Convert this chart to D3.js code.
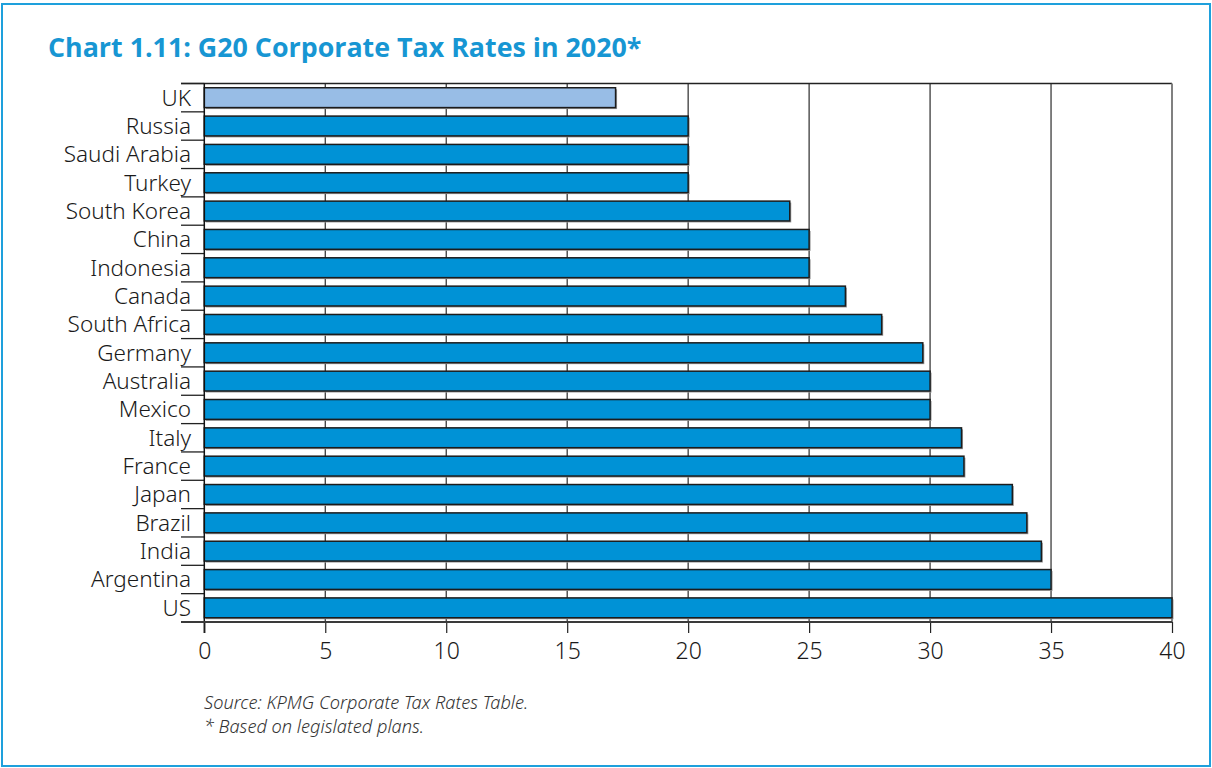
<!DOCTYPE html>
<html>
<head>
<meta charset="utf-8">
<script src="https://cdn.jsdelivr.net/npm/d3@7"></script>
<style>
  html, body { margin: 0; padding: 0; background: #fff; }
  svg { display: block; }
</style>
</head>
<body>
<svg id="chart" width="1212" height="768"></svg>
<script>
// G20 corporate tax rates, 2020 (%)
const countries = ["UK", "Russia", "Saudi Arabia", "Turkey", "South Korea", "China", "Indonesia",
  "Canada", "South Africa", "Germany", "Australia", "Mexico", "Italy", "France", "Japan",
  "Brazil", "India", "Argentina", "US"];
const rates = [17, 20, 20, 20, 24.2, 25, 25, 26.5, 28, 29.7, 30, 30, 31.3, 31.4, 33.4, 34, 34.6, 35, 40];
const xTicks = [0, 5, 10, 15, 20, 25, 30, 35, 40];
const highlight = "UK";

const titleText = "Chart 1.11: G20 Corporate Tax Rates in 2020*";
const notes = ["Source: KPMG Corporate Tax Rates Table.", "* Based on legislated plans."];

const svg = d3.select("#chart");
const font = "'Noto Sans', 'Open Sans', sans-serif";

// outer frame
svg.append("rect")
  .attr("x", 2).attr("y", 4).attr("width", 1208).attr("height", 762)
  .attr("fill", "none").attr("stroke", "#1ea0dc").attr("stroke-width", 2);

svg.append("text")
  .attr("x", 48).attr("y", 57)
  .attr("font-family", "'Open Sans', sans-serif")
  .attr("font-weight", 700)
  .attr("font-size", 26.8)
  .attr("fill", "#1796d3")
  .text(titleText);

const plot = { left: 204.3, right: 1172, top: 83.5, bottom: 622 };

const x = d3.scaleLinear().domain([0, 40]).range([plot.left, plot.right]);
const y = d3.scaleBand().domain(countries).range([plot.top, plot.bottom])
  .paddingInner(0.3).paddingOuter(0.15);
const yb = d3.scaleBand().domain(countries).range([plot.top, plot.bottom]);

const g = svg.append("g");

// vertical gridlines
g.selectAll("line.grid").data(xTicks.slice(1, -1)).join("line")
  .attr("class", "grid")
  .attr("x1", d => x(d)).attr("x2", d => x(d))
  .attr("y1", plot.top).attr("y2", plot.bottom)
  .attr("stroke", "#2b2b2b").attr("stroke-width", 1.2);

// plot frame: top (black) and right (grey)
g.append("line")
  .attr("x1", 181).attr("x2", plot.right)
  .attr("y1", plot.top).attr("y2", plot.top)
  .attr("stroke", "#222").attr("stroke-width", 1.5);
g.append("line")
  .attr("x1", plot.right).attr("x2", plot.right)
  .attr("y1", plot.top).attr("y2", plot.bottom)
  .attr("stroke", "#808080").attr("stroke-width", 2);

// bar shadows
g.selectAll("rect.shadow").data(countries).join("rect")
  .attr("class", "shadow")
  .attr("x", x(0) + 1.5)
  .attr("y", d => y(d) + 1.5)
  .attr("width", (d, i) => x(rates[i]) - x(0))
  .attr("height", y.bandwidth())
  .attr("fill", "#9a9a9a");

// bars
g.selectAll("rect.bar").data(countries).join("rect")
  .attr("class", "bar")
  .attr("x", x(0))
  .attr("y", d => y(d))
  .attr("width", (d, i) => x(rates[i]) - x(0))
  .attr("height", y.bandwidth())
  .attr("fill", d => d === highlight ? "#98bde6" : "#0092d6")
  .attr("stroke", "#1c1c1c").attr("stroke-width", 1.5);

// category tick marks at band edges
const edges = countries.map(c => yb(c)).concat([plot.bottom]);
g.selectAll("line.ytick").data(edges).join("line")
  .attr("class", "ytick")
  .attr("x1", 181).attr("x2", plot.left)
  .attr("y1", d => d).attr("y2", d => d)
  .attr("stroke", "#222").attr("stroke-width", 1.3);

// category labels
g.selectAll("text.ylab").data(countries).join("text")
  .attr("class", "ylab")
  .attr("x", 191)
  .attr("y", d => yb(d) + yb.bandwidth() / 2)
  .attr("dy", "0.35em")
  .attr("text-anchor", "end")
  .attr("font-family", font)
  .attr("font-weight", 300)
  .attr("font-size", 22.5)
  .attr("fill", "#1a1a1a")
  .text(d => d);

// y axis line
g.append("line")
  .attr("x1", plot.left).attr("x2", plot.left)
  .attr("y1", plot.top).attr("y2", plot.bottom + 11)
  .attr("stroke", "#111").attr("stroke-width", 1.5);

// x axis
const xAxis = d3.axisBottom(x).tickValues(xTicks).tickSize(11).tickPadding(10).tickFormat(d3.format("d"));
const ax = svg.append("g").attr("transform", `translate(0,${plot.bottom})`).call(xAxis);
ax.select(".domain").remove();
ax.append("line")
  .attr("x1", 181).attr("x2", plot.right)
  .attr("y1", 0).attr("y2", 0)
  .attr("stroke", "#3a3a3a").attr("stroke-width", 2);
ax.selectAll(".tick line").attr("stroke", "#222").attr("stroke-width", 1.2);
ax.selectAll(".tick text")
  .attr("font-family", font).attr("font-weight", 300)
  .attr("font-size", 23).attr("fill", "#1a1a1a");

// notes
svg.selectAll("text.note").data(notes).join("text")
  .attr("class", "note")
  .attr("x", 204)
  .attr("y", (d, i) => 709 + i * 24)
  .attr("font-family", font)
  .attr("font-style", "italic")
  .attr("font-weight", 300)
  .attr("font-size", 18.2)
  .attr("fill", "#333")
  .text(d => d);
</script>
</body>
</html>
